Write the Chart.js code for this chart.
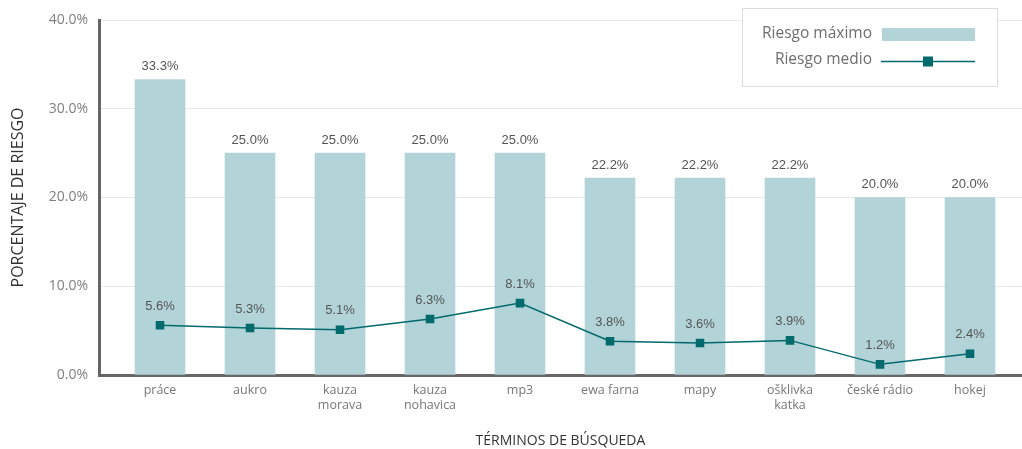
<!DOCTYPE html>
<html>
<head>
<meta charset="utf-8">
<script src="https://cdn.jsdelivr.net/npm/chart.js@4"></script>
<style>
  html, body { margin: 0; padding: 0; background: #fff; }
  #wrap { width: 1022px; height: 449px; }
</style>
</head>
<body>
<div id="wrap"><canvas id="grafico"></canvas></div>
<script>
// datos
var terminos = ['práce', 'aukro', ['kauza', 'morava'], ['kauza', 'nohavica'], 'mp3',
    'ewa farna', 'mapy', ['ošklivka', 'katka'], 'české rádio', 'hokej'];
var riesgoMaximo = [33.3, 25.0, 25.0, 25.0, 25.0, 22.2, 22.2, 22.2, 20.0, 20.0];
var riesgoMedio = [5.6, 5.3, 5.1, 6.3, 8.1, 3.8, 3.6, 3.9, 1.2, 2.4];
var ticksY = [0, 10, 20, 30, 40];

var colorBarra = '#b2d3d7';
var colorLinea = '#006a6c';

// etiquetas de valor sobre barras y puntos
var etiquetasValor = {
    id: 'etiquetasValor',
    afterDatasetsDraw: function (chart) {
        var ctx = chart.ctx;
        ctx.save();
        ctx.font = '13px "Liberation Sans", Arial, sans-serif';
        ctx.fillStyle = '#555';
        ctx.textAlign = 'center';
        ctx.textBaseline = 'middle';
        chart.getDatasetMeta(0).data.forEach(function (bar, i) {
            ctx.fillText(riesgoMaximo[i].toFixed(1) + '%', bar.x, bar.y - 13);
        });
        chart.getDatasetMeta(1).data.forEach(function (pt, i) {
            ctx.fillText(riesgoMedio[i].toFixed(1) + '%', pt.x, pt.y - 19);
        });
        ctx.restore();
    }
};

// leyenda propia en recuadro
var leyenda = {
    id: 'leyenda',
    afterDraw: function (chart) {
        var ctx = chart.ctx;
        ctx.save();
        ctx.fillStyle = '#fff';
        ctx.fillRect(742.5, 8.5, 255, 78);
        ctx.strokeStyle = '#dcdcdc';
        ctx.lineWidth = 1;
        ctx.strokeRect(742.5, 8.5, 255, 78);
        ctx.font = '15.5px "Open Sans", sans-serif';
        ctx.fillStyle = '#6e6e6e';
        ctx.textAlign = 'right';
        ctx.textBaseline = 'middle';
        ctx.fillText(chart.data.datasets[0].label, 872, 34);
        ctx.fillText(chart.data.datasets[1].label, 872, 60);
        ctx.fillStyle = colorBarra;
        ctx.fillRect(882, 28, 93, 13);
        ctx.strokeStyle = colorLinea;
        ctx.lineWidth = 1.5;
        ctx.beginPath();
        ctx.moveTo(881, 61.5);
        ctx.lineTo(975, 61.5);
        ctx.stroke();
        ctx.fillStyle = colorLinea;
        ctx.fillRect(923, 56.5, 10, 10);
        ctx.restore();
    }
};

var ctx = document.getElementById('grafico').getContext('2d');
new Chart(ctx, {
    data: {
        datasets: [{
            type: 'bar',
            label: 'Riesgo máximo',
            data: riesgoMaximo.map(function (v, i) { return { x: i, y: v }; }),
            backgroundColor: colorBarra,
            barThickness: 50,
            order: 2
        }, {
            type: 'line',
            label: 'Riesgo medio',
            data: riesgoMedio.map(function (v, i) { return { x: i, y: v }; }),
            borderColor: colorLinea,
            backgroundColor: colorLinea,
            borderWidth: 1.5,
            pointStyle: 'rect',
            pointRadius: 5,
            pointHoverRadius: 5,
            tension: 0,
            order: 1
        }]
    },
    options: {
        responsive: true,
        maintainAspectRatio: false,
        animation: false,
        layout: { autoPadding: false, padding: { top: 20, right: 0, left: 0, bottom: 0 } },
        plugins: {
            legend: { display: false },
            tooltip: { enabled: false }
        },
        scales: {
            x: {
                type: 'linear',
                offset: false,
                min: -0.678,
                max: 9.578,
                afterBuildTicks: function (scale) {
                    scale.ticks = terminos.map(function (t, i) { return { value: i }; });
                },
                afterFit: function (scale) {
                    scale.height = 74;
                    scale.paddingLeft = 0;
                    scale.paddingRight = 0;
                },
                grid: { color: 'transparent', drawTicks: false, offset: false },
                border: { display: true, color: '#666', width: 3 },
                ticks: {
                    autoSkip: false,
                    maxRotation: 0,
                    padding: 8,
                    color: '#777',
                    font: { family: '"Open Sans", sans-serif', size: 12.5 },
                    callback: function (v) { return terminos[v]; }
                },
                title: {
                    display: true,
                    text: 'TÉRMINOS DE BÚSQUEDA',
                    color: '#333',
                    font: { family: '"Open Sans", sans-serif', size: 14 },
                    padding: { top: 0, bottom: 0 }
                }
            },
            y: {
                min: 0,
                max: 40,
                afterBuildTicks: function (scale) {
                    scale.ticks = ticksY.map(function (v) { return { value: v }; });
                },
                afterFit: function (scale) { scale.width = 99; },
                grid: { color: 'rgba(0,0,0,0.09)', drawTicks: false },
                border: { display: true, color: '#666', width: 3 },
                ticks: {
                    padding: 11,
                    color: '#808080',
                    font: { family: '"Open Sans", sans-serif', size: 14 },
                    callback: function (v) { return v.toFixed(1) + '%'; }
                },
                title: {
                    display: true,
                    text: 'PORCENTAJE DE RIESGO',
                    color: '#333',
                    font: { family: '"Open Sans", sans-serif', size: 16 },
                    padding: { top: 9, bottom: 0 }
                }
            }
        }
    },
    plugins: [etiquetasValor, leyenda]
});
</script>
</body>
</html>
